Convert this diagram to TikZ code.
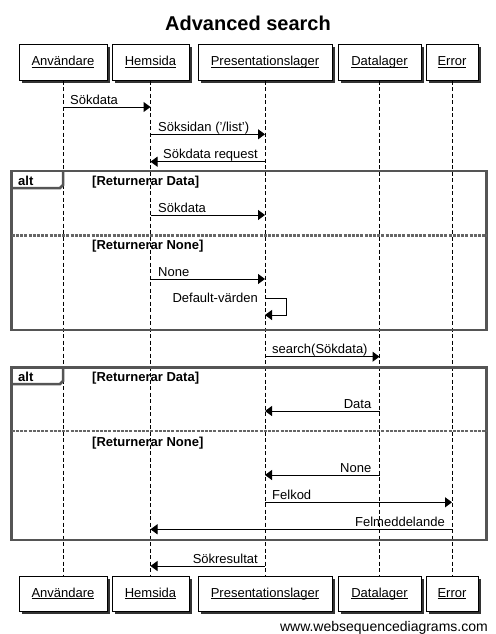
\documentclass[tikz,border=0pt]{standalone}
\usepackage{fontspec}
\setmainfont{Liberation Sans}
\usetikzlibrary{arrows.meta,shadows}
\definecolor{framegray}{HTML}{555555}
\definecolor{sepgray}{HTML}{666666}
\newcommand\ulname[1]{\setbox0\hbox{#1}\rlap{\rule[-2.2pt]{\wd0}{0.8pt}}\box0}
\begin{document}
\begin{tikzpicture}[x=1pt,y=-1pt,
  part/.style={draw=black, line width=1pt, fill=white, inner sep=0pt,
    minimum height=35pt, text height=9.5pt, text depth=2.5pt, font=\fontsize{13}{15}\selectfont,
    drop shadow={shadow xshift=2.5pt, shadow yshift=-2.5pt, fill=black!80, opacity=1}},
  life/.style={line width=0.9pt, dash pattern=on 4pt off 2.5pt},
  msg/.style={line width=1pt, -{Triangle[length=7pt,width=10pt]}},
  lbl/.style={font=\fontsize{13}{15}\selectfont, inner sep=0pt},
  guard/.style={font=\bfseries\fontsize{13}{15}\selectfont, inner sep=0pt, anchor=west},
  framebox/.style={draw=framegray, line width=2.5pt},
  sepline/.style={draw=sepgray, line width=2.3pt, dash pattern=on 3pt off 1.2pt}]
\useasboundingbox[fill=white] (0,0) rectangle (495,634);

% title
\node[font=\bfseries\fontsize{20}{24}\selectfont, inner sep=0pt, anchor=base] (title) at (248,31) {Advanced search};

% participants top
\node[part, minimum width=88pt]  (pA_t) at (63,62.5)  {\ulname{Användare}};
\node[part, minimum width=77pt]  (pB_t) at (150.5,62.5) {\ulname{Hemsida}};
\node[part, minimum width=134pt] (pC_t) at (265,62.5) {\ulname{Presentationslager}};
\node[part, minimum width=83pt]  (pD_t) at (379.5,62.5) {\ulname{Datalager}};
\node[part, minimum width=52pt]  (pE_t) at (452,62.5) {\ulname{Error}};

% participants bottom
\node[part, minimum width=88pt]  (pA_b) at (63,593.5)  {\ulname{Användare}};
\node[part, minimum width=77pt]  (pB_b) at (150.5,593.5) {\ulname{Hemsida}};
\node[part, minimum width=134pt] (pC_b) at (265,593.5) {\ulname{Presentationslager}};
\node[part, minimum width=83pt]  (pD_b) at (379.5,593.5) {\ulname{Datalager}};
\node[part, minimum width=52pt]  (pE_b) at (452,593.5) {\ulname{Error}};

% lifelines
\foreach \p in {A,B,C,D,E}{
  \draw[life] (p\p_t.south) -- (p\p_b.north);
}

% frame 1
\draw[framebox] (11.7,171) rectangle (486.7,330);
\draw[framebox] (11.7,188) -- (60,188) -- (63,185) -- (63,171);
\draw[sepline] (11.7,235.5) -- (486.7,235.5);
\node[font=\bfseries\fontsize{13}{15}\selectfont, inner sep=0pt, anchor=base west] (alt1) at (18,185.5) {alt};
\node[guard, anchor=base west] (g1) at (92,185.5) {[Returnerar Data]};
\node[guard, anchor=base west] (g2) at (92,249) {[Returnerar None]};

% frame 2
\draw[framebox] (11.7,367.7) rectangle (486.7,540);
\draw[framebox] (11.7,384) -- (60,384) -- (63,381) -- (63,367.7);
\draw[sepline] (11.7,431) -- (486.7,431);
\node[font=\bfseries\fontsize{13}{15}\selectfont, inner sep=0pt, anchor=base west] (alt2) at (18,381.5) {alt};
\node[guard, anchor=base west] (g3) at (92,381.5) {[Returnerar Data]};
\node[guard, anchor=base west] (g4) at (92,446) {[Returnerar None]};

% messages
\draw[msg] (pA_t |- 0,107) -- (pB_t |- 0,107);
\node[lbl, anchor=base west] (m1) at (70,104) {Sökdata};

\draw[msg] (pB_t |- 0,134.3) -- (pC_t |- 0,134.3);
\node[lbl, anchor=base west] (m2) at (158,131.3) {Söksidan ('/list')};

\draw[msg] (pC_t |- 0,161.7) -- (pB_t |- 0,161.7);
\node[lbl, anchor=base east] (m3) at (258,158.7) {Sökdata request};

\draw[msg] (pB_t |- 0,215) -- (pC_t |- 0,215);
\node[lbl, anchor=base west] (m4) at (158,212) {Sökdata};

\draw[msg] (pB_t |- 0,279) -- (pC_t |- 0,279);
\node[lbl, anchor=base west] (m5) at (158,276) {None};

\draw[msg] (pC_t |- 0,298) -- ++(21,0) -- ++(0,17) -- (pC_t |- 0,315);
\node[lbl, anchor=base east] (m6) at (258,302) {Default-värden};

\draw[msg] (pC_t |- 0,356.7) -- (pD_t |- 0,356.7);
\node[lbl, anchor=base west] (m7) at (272,353.7) {search(Sökdata)};

\draw[msg] (pD_t |- 0,411) -- (pC_t |- 0,411);
\node[lbl, anchor=base east] (m8) at (371.5,408) {Data};

\draw[msg] (pD_t |- 0,475) -- (pC_t |- 0,475);
\node[lbl, anchor=base east] (m9) at (371.5,472) {None};

\draw[msg] (pC_t |- 0,502.3) -- (pE_t |- 0,502.3);
\node[lbl, anchor=base west] (m10) at (272,499.3) {Felkod};

\draw[msg] (pE_t |- 0,529.3) -- (pB_t |- 0,529.3);
\node[lbl, anchor=base east] (m11) at (445,526.3) {Felmeddelande};

\draw[msg] (pC_t |- 0,566) -- (pB_t |- 0,566);
\node[lbl, anchor=base east] (m12) at (258,563) {Sökresultat};

% footer
\node[font=\fontsize{14}{16}\selectfont, inner sep=0pt, anchor=base east] (footer) at (488,631) {www.websequencediagrams.com};
\end{tikzpicture}
\end{document}
